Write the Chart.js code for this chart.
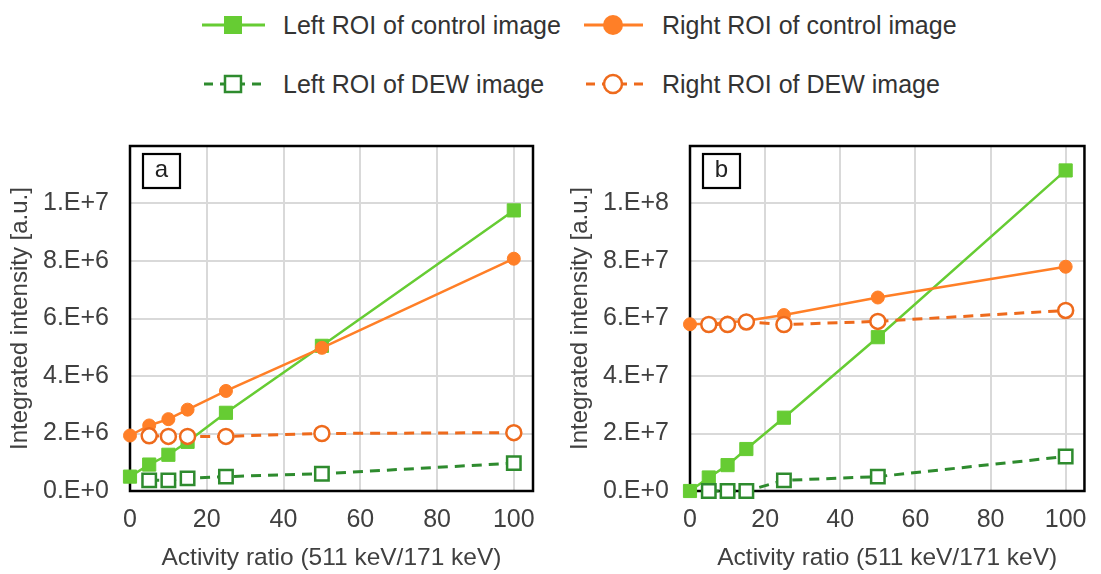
<!DOCTYPE html>
<html>
<head>
<meta charset="utf-8">
<script src="https://cdn.jsdelivr.net/npm/chart.js@4.4.1/dist/chart.umd.min.js"></script>
<style>
  body { margin: 0; background: #fff; width: 1101px; height: 574px; overflow: hidden; position: relative;
         font-family: "Liberation Sans", Arial, sans-serif; }
  .panel { position: absolute; top: 110px; height: 464px; }
  #legend { position: absolute; left: 0; top: 0; width: 1101px; height: 110px; }
  .lg { position: absolute; font-size: 25px; color: #333; white-space: nowrap; line-height: 30px; }
</style>
</head>
<body>
<div id="legend">
  <svg width="1101" height="110" style="position:absolute;left:0;top:0">
    <line x1="202" y1="25" x2="265" y2="25" stroke="#66CC33" stroke-width="3"/>
    <rect x="224" y="16" width="18" height="18" fill="#66CC33"/>
    <line x1="584" y1="25" x2="643" y2="25" stroke="#FF7F27" stroke-width="3"/>
    <circle cx="613" cy="25" r="10" fill="#FF7F27"/>
    <line x1="202" y1="84" x2="265" y2="84" stroke="#2E8B2E" stroke-width="3" stroke-dasharray="9,7" stroke-dashoffset="-2"/>
    <rect x="225" y="76" width="16" height="16" fill="#fff" stroke="#2E8B2E" stroke-width="2.5"/>
    <line x1="584" y1="84" x2="643" y2="84" stroke="#EE6A1C" stroke-width="3" stroke-dasharray="9,7" stroke-dashoffset="-2"/>
    <circle cx="613" cy="84" r="9" fill="#fff" stroke="#EE6A1C" stroke-width="2.5"/>
  </svg>
  <div class="lg" style="left:283px;top:10px">Left ROI of control image</div>
  <div class="lg" style="left:662px;top:10px">Right ROI of control image</div>
  <div class="lg" style="left:283px;top:69px">Left ROI of DEW image</div>
  <div class="lg" style="left:662px;top:69px">Right ROI of DEW image</div>
</div>
<div class="panel" style="left:0;width:560px"><canvas id="chartA" width="560" height="464"></canvas></div>
<div class="panel" style="left:560px;width:541px"><canvas id="chartB" width="541" height="464"></canvas></div>
<script>
// activity ratios (x values)
const controlRatio = [0, 5, 10, 15, 25, 50, 100];
const dewRatio = [5, 10, 15, 25, 50, 100];

// panel a
const leftControlA = [0.50e6, 0.92e6, 1.26e6, 1.71e6, 2.72e6, 5.05e6, 9.76e6];
const rightControlA = [1.93e6, 2.28e6, 2.50e6, 2.83e6, 3.48e6, 4.98e6, 8.08e6];
const leftDewA = [0.37e6, 0.37e6, 0.44e6, 0.50e6, 0.60e6, 0.97e6];
const rightDewA = [1.92e6, 1.90e6, 1.90e6, 1.90e6, 2.00e6, 2.03e6];

// panel b
const leftControlB = [0, 0.47e7, 0.90e7, 1.46e7, 2.55e7, 5.35e7, 11.15e7];
const rightControlB = [5.80e7, 5.82e7, 5.86e7, 5.92e7, 6.12e7, 6.73e7, 7.80e7];
const leftDewB = [0, 0, 0, 0.37e7, 0.50e7, 1.20e7];
const rightDewB = [5.79e7, 5.79e7, 5.88e7, 5.79e7, 5.90e7, 6.28e7];

const greenFill = '#66CC33';
const greenDark = '#2E8B2E';
const orangeFill = '#FF7F27';
const orangeDark = '#EE6A1C';
const textColor = '#404040';
const fontFamily = '"Liberation Sans", Arial, sans-serif';

function pts(xs, ys) {
    return xs.map((x, i) => ({ x: x, y: ys[i] }));
}

// Excel style "0.E+0" labels
function sci(v) {
    if (v === 0) return '0.E+0';
    const e = Math.floor(Math.log10(v) + 1e-9);
    return Math.round(v / Math.pow(10, e)) + '.E+' + e;
}

// black frame round the plot + the little "a"/"b" box
const framePlugin = {
    id: 'frame',
    beforeDatasetsDraw(chart, args, opts) {
        const a = chart.chartArea;
        const ctx = chart.ctx;
        ctx.save();
        ctx.strokeStyle = '#000';
        ctx.lineWidth = 2.5;
        ctx.strokeRect(a.left, a.top, a.right - a.left, a.bottom - a.top);
        // panel letter
        ctx.lineWidth = 2.2;
        ctx.fillStyle = '#fff';
        ctx.fillRect(a.left + 13, a.top + 8, 37, 34);
        ctx.strokeRect(a.left + 13, a.top + 8, 37, 34);
        ctx.fillStyle = '#222';
        ctx.font = '24px ' + fontFamily;
        ctx.textAlign = 'center';
        ctx.textBaseline = 'middle';
        ctx.fillText(opts.letter, a.left + 31.5, a.top + 24);
        ctx.restore();
    }
};

function makePanel(id, letter, lc, rc, ld, rd, yMax, yStep, yLabelMax, padRight) {
    const ctx = document.getElementById(id).getContext('2d');
    return new Chart(ctx, {
        type: 'line',
        data: {
            datasets: [
                {   // right ROI DEW
                    data: pts(dewRatio, rd), order: 0, clip: false,
                    borderColor: orangeDark, borderWidth: 3, borderDash: [10, 7],
                    pointStyle: 'circle', pointRadius: 7.5, pointBorderWidth: 2.5,
                    pointBackgroundColor: '#fff', pointBorderColor: orangeDark
                },
                {   // left ROI DEW
                    data: pts(dewRatio, ld), order: 1, clip: false,
                    borderColor: greenDark, borderWidth: 3, borderDash: [10, 7],
                    pointStyle: 'rect', pointRadius: 9.5, pointBorderWidth: 2.5,
                    pointBackgroundColor: '#fff', pointBorderColor: greenDark
                },
                {   // right ROI control
                    data: pts(controlRatio, rc), order: 2, clip: false,
                    borderColor: orangeFill, borderWidth: 2.5,
                    pointStyle: 'circle', pointRadius: 6.5, pointBorderWidth: 1,
                    pointBackgroundColor: orangeFill, pointBorderColor: orangeFill
                },
                {   // left ROI control
                    data: pts(controlRatio, lc), order: 3, clip: false,
                    borderColor: greenFill, borderWidth: 2.5,
                    pointStyle: 'rect', pointRadius: 9.3, pointBorderWidth: 1,
                    pointBackgroundColor: greenFill, pointBorderColor: greenFill
                }
            ]
        },
        options: {
            responsive: false,
            animation: false,
            devicePixelRatio: 1,
            layout: { autoPadding: false, padding: { top: 21, right: padRight, left: 0, bottom: 0 } },
            plugins: {
                legend: { display: false },
                tooltip: { enabled: false },
                frame: { letter: letter }
            },
            scales: {
                x: {
                    type: 'linear', min: 0, max: 105,
                    border: { display: false },
                    grid: { color: '#D9D9D9', lineWidth: 2, drawTicks: false },
                    ticks: { stepSize: 20, includeBounds: false, padding: 14, color: textColor,
                             font: { family: fontFamily, size: 25 } },
                    title: { display: true, text: 'Activity ratio (511 keV/171 keV)', color: textColor,
                             font: { family: fontFamily, size: 24.5 }, padding: { top: 0, bottom: 1 } },
                    afterFit: s => { s.height = 83; }
                },
                y: {
                    type: 'linear', min: 0, max: yMax,
                    border: { display: false },
                    grid: { color: '#D9D9D9', lineWidth: 2, drawTicks: false },
                    ticks: { stepSize: yStep, padding: 21, color: textColor,
                             font: { family: fontFamily, size: 25 },
                             callback: v => (v > yLabelMax ? null : sci(v)) },
                    title: { display: true, text: 'Integrated intensity [a.u.]', color: textColor,
                             font: { family: fontFamily, size: 24 }, padding: { top: 6, bottom: 0 } },
                    afterFit: s => { s.width = 130; }
                }
            }
        },
        plugins: [framePlugin]
    });
}

makePanel('chartA', 'a', leftControlA, rightControlA, leftDewA, rightDewA, 1.2e7, 2e6, 1e7, 27);
makePanel('chartB', 'b', leftControlB, rightControlB, leftDewB, rightDewB, 1.2e8, 2e7, 1e8, 10);
</script>
</body>
</html>
